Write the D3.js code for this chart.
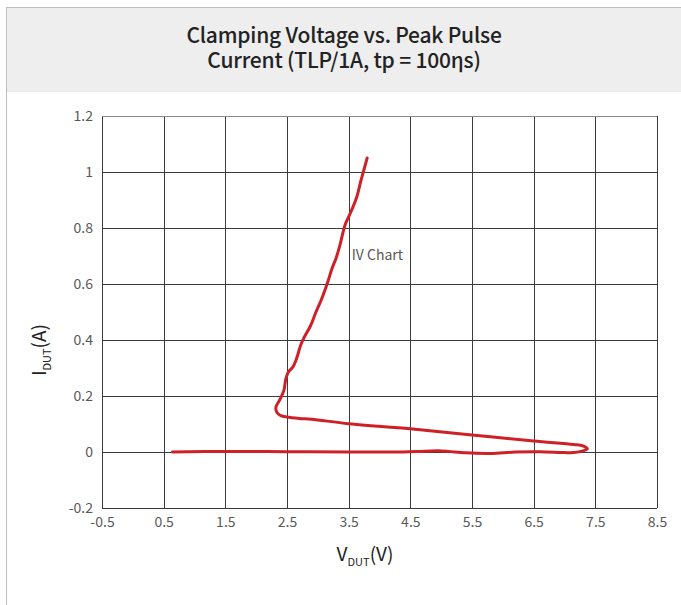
<!DOCTYPE html>
<meta charset="utf-8">
<style>
    body {
        margin: 0;
        background: #fff;
        font-family: "Noto Sans CJK SC", "Noto Sans", sans-serif;
    }
    .grid line { stroke: #3b3b3b; stroke-width: 1px; shape-rendering: crispEdges; }
    .grid text {
        fill: #595959;
        font-size: 14px;
        font-family: "Noto Sans CJK SC", "Noto Sans", sans-serif;
    }
</style>
<script src="https://d3js.org/d3.v7.min.js"></script>
<div id="chart"></div>
<script>
    var titleLines = ["Clamping Voltage vs. Peak Pulse", "Current (TLP/1A, tp = 100\u03b7s)"];
    var xTicks = [-0.5, 0.5, 1.5, 2.5, 3.5, 4.5, 5.5, 6.5, 7.5, 8.5];
    var yTicks = [-0.2, 0, 0.2, 0.4, 0.6, 0.8, 1, 1.2];

    // measured IV trace, in drawing order (V, A)
    var vdut = [0.64, 1.5, 2.5, 3.5, 4.2, 4.6, 5.0, 5.4, 5.8, 6.2, 6.6, 7.0, 7.15, 7.3, 7.37,
        7.3, 7.15, 6.5, 5.5, 4.5, 3.5, 2.9, 2.7, 2.5, 2.4, 2.34, 2.32, 2.38, 2.45, 2.48, 2.52,
        2.6, 2.65, 2.72, 2.78, 2.88, 2.97, 3.05, 3.15, 3.23, 3.3, 3.36, 3.44, 3.5, 3.56, 3.63, 3.7, 3.8];
    var idut = [0, 0.002, 0.001, 0, 0, 0.002, 0.004, -0.003, -0.005, 0, 0.001, -0.002, -0.002, 0.004, 0.011,
        0.022, 0.027, 0.039, 0.061, 0.083, 0.101, 0.117, 0.12, 0.125, 0.13, 0.14, 0.16, 0.185, 0.22, 0.26, 0.285,
        0.305, 0.33, 0.38, 0.41, 0.45, 0.5, 0.54, 0.6, 0.655, 0.695, 0.74, 0.81, 0.84, 0.87, 0.91, 0.97, 1.05];

    var W = 681, H = 605;
    var margin = {top: 116, left: 102},
        width = 555,
        height = 392;

    var root = d3.select("#chart").append("svg")
        .attr("width", W)
        .attr("height", H);

    // panel frame + header band
    root.append("rect")
        .attr("x", 6).attr("y", 7)
        .attr("width", W - 6).attr("height", 85)
        .style("fill", "#eeeeee");
    root.append("line")
        .attr("x1", 6).attr("x2", W).attr("y1", 7.5).attr("y2", 7.5)
        .style("stroke", "#bdbdbd");
    root.append("line")
        .attr("x1", 6.5).attr("x2", 6.5).attr("y1", 7).attr("y2", H)
        .style("stroke", "#bdbdbd");

    // two-line title as one text block
    var title = root.append("text")
        .attr("text-anchor", "middle")
        .attr("y", 43)
        .style("font-size", "21px")
        .style("font-weight", 500)
        .style("letter-spacing", "-0.2px")
        .style("fill", "#222");
    title.selectAll("tspan")
        .data(titleLines)
        .enter()
        .append("tspan")
        .attr("x", 344)
        .attr("dy", function(d, i) { return i ? 25 : 0; })
        .text(function(d) { return d; });

    var svg = root.append("g")
        .attr("transform", "translate(" + margin.left + "," + margin.top + ")");

    var x = d3.scaleLinear().domain([-0.5, 8.5]).range([0, width]);
    var y = d3.scaleLinear().domain([-0.2, 1.2]).range([height, 0]);

    var gx = svg.append("g")
        .attr("class", "grid")
        .attr("transform", "translate(0," + height + ")")
        .call(d3.axisBottom(x).tickValues(xTicks).tickSize(-height).tickPadding(9)
            .tickFormat(function(d) { return String(d); }));
    gx.select(".domain").remove();

    var gy = svg.append("g")
        .attr("class", "grid")
        .call(d3.axisLeft(y).tickValues(yTicks).tickSize(-width).tickPadding(9)
            .tickFormat(function(d) { return String(d); }));
    gy.select(".domain").remove();
    gy.selectAll(".tick line")
        .filter(function(d) { return d === 1.2; })
        .style("stroke", "#8a8a8a");

    var pts = vdut.map(function(v, i) { return [v, idut[i]]; });
    var line = d3.line()
        .x(function(d) { return x(d[0]); })
        .y(function(d) { return y(d[1]); })
        .curve(d3.curveCatmullRom.alpha(0.5));

    svg.append("path")
        .datum(pts)
        .attr("d", line)
        .style("fill", "none")
        .style("stroke", "#cf2027")
        .style("stroke-width", 3)
        .style("stroke-linejoin", "round")
        .style("stroke-linecap", "round");

    svg.append("text")
        .attr("x", x(3.55))
        .attr("y", y(0.685))
        .style("font-size", "14px")
        .style("fill", "#595959")
        .text("IV Chart");

    // axis titles
    var xl = root.append("text")
        .attr("x", 365)
        .attr("y", 561)
        .attr("text-anchor", "middle")
        .style("font-size", "19px")
        .style("fill", "#222");
    xl.append("tspan").text("V");
    xl.append("tspan").attr("dy", 5).style("font-size", "11px").text("DUT");
    xl.append("tspan").attr("dy", -5).text("(V)");

    var yl = root.append("text")
        .attr("transform", "translate(46,350) rotate(-90)")
        .attr("text-anchor", "middle")
        .style("font-size", "19px")
        .style("fill", "#222");
    yl.append("tspan").text("I");
    yl.append("tspan").attr("dy", 5).style("font-size", "11px").text("DUT");
    yl.append("tspan").attr("dy", -5).text("(A)");
</script>
